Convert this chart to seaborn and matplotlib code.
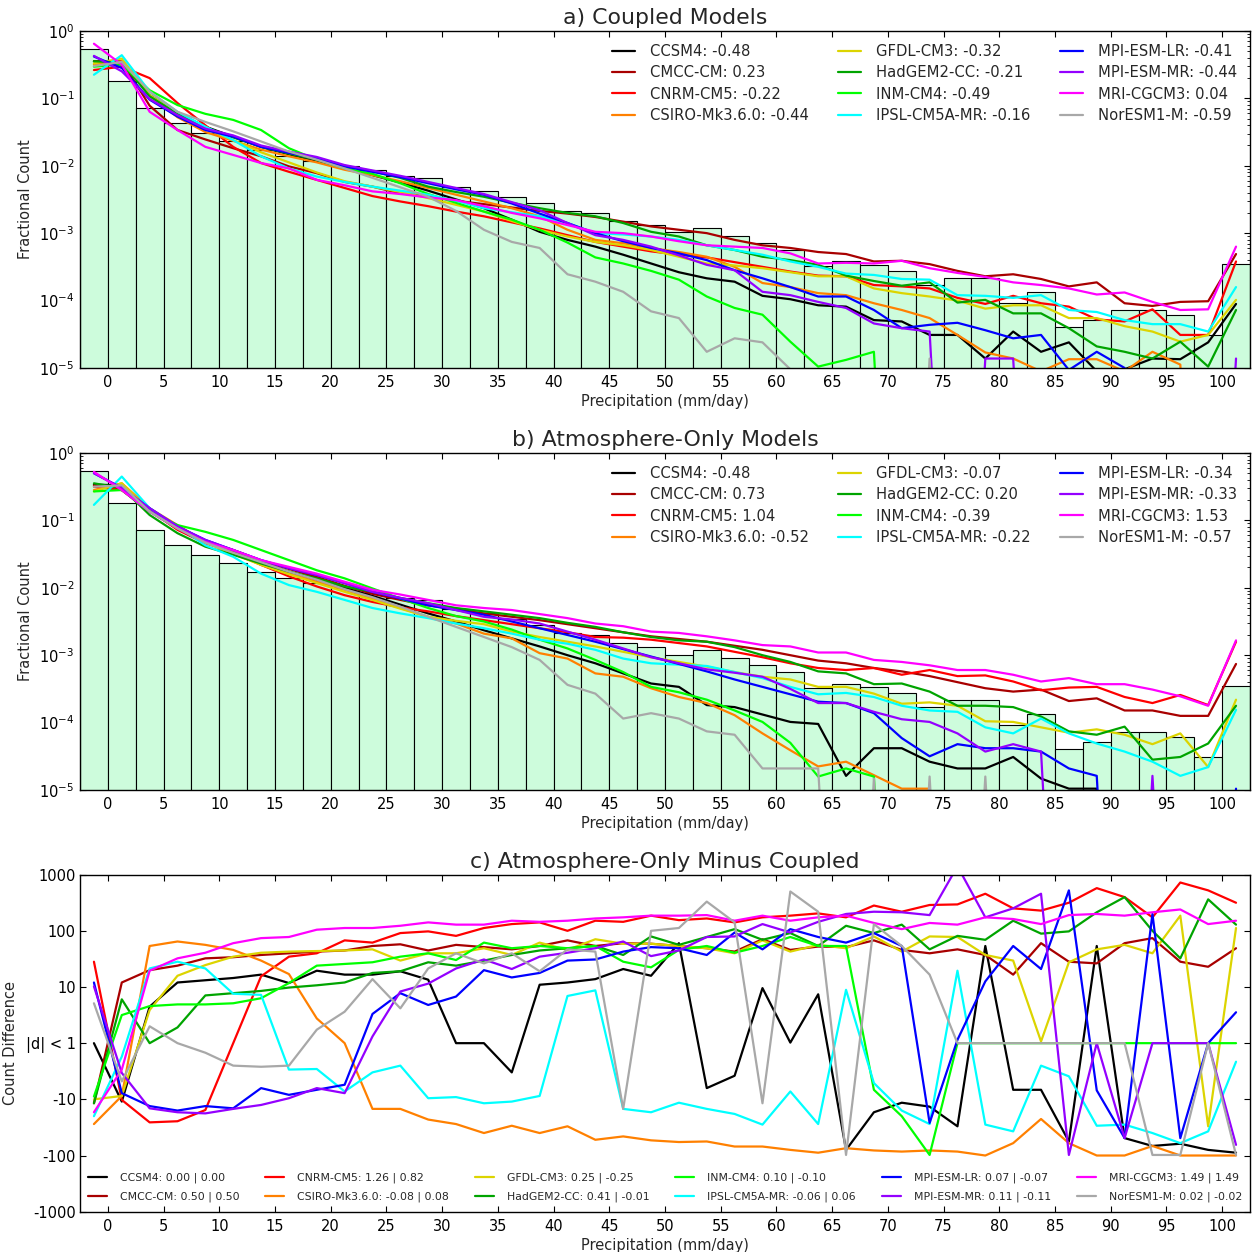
import numpy as np
import pandas as pd
import seaborn as sns
import matplotlib
matplotlib.use('Agg')
import matplotlib.pyplot as plt

OUT_PNG = 'out.png'

MODELS = ['CCSM4', 'CMCC-CM', 'CNRM-CM5', 'CSIRO-Mk3.6.0', 'GFDL-CM3', 'HadGEM2-CC',
          'INM-CM4', 'IPSL-CM5A-MR', 'MPI-ESM-LR', 'MPI-ESM-MR', 'MRI-CGCM3', 'NorESM1-M']
COLORS = ['#000000', '#a80000', '#ff0000', '#ff8000', '#dcd400', '#00a400',
          '#00ff00', '#00ffff', '#0000ff', '#9400ff', '#ff00ff', '#a8a8a8']

SKILL_CPL = ['-0.48', '0.23', '-0.22', '-0.44', '-0.32', '-0.21',
             '-0.49', '-0.16', '-0.41', '-0.44', '0.04', '-0.59']
SKILL_AMIP = ['-0.48', '0.73', '1.04', '-0.52', '-0.07', '0.20',
              '-0.39', '-0.22', '-0.34', '-0.33', '1.53', '-0.57']
SKILL_DIFF = ['0.00 | 0.00', '0.50 | 0.50', '1.26 | 0.82', '-0.08 | 0.08', '0.25 | -0.25', '0.41 | -0.01',
              '0.10 | -0.10', '-0.06 | 0.06', '0.07 | -0.07', '0.11 | -0.11', '1.49 | 1.49', '0.02 | -0.02']

# bin edges of the 2.5 mm/day histogram (-2.5 .. 102.5)
BIN_EDGES = np.arange(-2.5, 102.6, 2.5)
BIN_CENTERS = BIN_EDGES[:-1] + 1.25
OFF = -12  # empty bin, drops off the log axis

# observed fractional count (log10)
OBS_LOG = [-0.267, -0.747, -1.147, -1.365, -1.518, -1.637, -1.766, -1.85, -1.93, -2.0,
           -2.07, -2.156, -2.176, -2.315, -2.37, -2.463, -2.547, -2.675, -2.70, -2.814,
           -2.873, -2.99, -2.93, -3.035, -3.15, -3.254, -3.49, -3.42, -3.467, -3.556,
           -3.764, -3.665, -3.665, -4.036, -3.878, -4.387, -4.288, -4.145, -4.145, -4.209,
           -4.515, -3.452]

# a) coupled models, log10 fractional count
CPL_CCSM4 = [-0.45, -0.45, -0.95, -1.22, -1.42, -1.57, -1.72, -1.83, -1.93, -2.04, -2.14, -2.25, -2.37, -2.50,
             -2.63, -2.80, -2.98, -3.10, -3.20, -3.32, -3.45, -3.58, -3.67, -3.72, -3.93, -3.98, -4.07, -4.09,
             -4.29, -4.31, -4.51, -4.51, -4.86, -4.46, -4.76, -4.62, -5.05, -5.02, -4.86, -4.87, -4.62, -4.05]
CPL_CMCC = [-0.45, -0.45, -1.11, -1.47, -1.61, -1.74, -1.86, -2.01, -2.11, -2.24, -2.31, -2.41, -2.45, -2.52,
            -2.57, -2.62, -2.67, -2.71, -2.76, -2.83, -2.90, -2.95, -3.0, -3.10, -3.18, -3.22, -3.28, -3.31,
            -3.42, -3.41, -3.46, -3.56, -3.64, -3.61, -3.68, -3.79, -3.73, -4.04, -4.08, -4.02, -4.01, -3.31]
CPL_CNRM = [-0.58, -0.53, -0.70, -1.07, -1.40, -1.72, -1.96, -2.09, -2.21, -2.33, -2.45, -2.53, -2.60, -2.68,
            -2.75, -2.84, -2.93, -3.03, -3.13, -3.20, -3.27, -3.32, -3.36, -3.43, -3.50, -3.57, -3.63, -3.64,
            -3.77, -3.79, -3.82, -3.96, -4.05, -3.93, -4.04, -4.09, -4.28, -4.31, -4.13, -4.51, -4.51, -3.42]
CPL_CSIRO = [-0.50, -0.45, -0.96, -1.28, -1.50, -1.63, -1.76, -1.86, -1.95, -2.06, -2.14, -2.23, -2.33, -2.43,
             -2.53, -2.63, -2.75, -2.95, -3.10, -3.15, -3.22, -3.28, -3.35, -3.50, -3.74, -3.80, -3.89, -3.92,
             -4.04, -4.14, -4.26, -4.51, -4.77, -4.86, -5.05, -4.87, -4.87, -5.05, -4.76, -4.95, OFF, OFF]
CPL_GFDL = [-0.48, -0.41, -0.95, -1.22, -1.45, -1.62, -1.80, -1.95, -2.10, -2.23, -2.31, -2.39, -2.48, -2.58,
            -2.68, -2.82, -2.95, -3.05, -3.13, -3.18, -3.25, -3.35, -3.45, -3.48, -3.52, -3.58, -3.64, -3.64,
            -3.82, -3.89, -3.94, -4.00, -4.12, -4.07, -4.07, -4.26, -4.26, -4.38, -4.46, -4.61, -4.51, -3.99]
CPL_HADGEM = [-0.45, -0.47, -0.97, -1.23, -1.43, -1.58, -1.72, -1.82, -1.91, -2.0, -2.08, -2.18, -2.31, -2.39,
              -2.46, -2.55, -2.63, -2.70, -2.75, -2.85, -2.98, -3.05, -3.18, -3.25, -3.35, -3.40, -3.47, -3.63,
              -3.71, -3.78, -3.73, -4.03, -3.99, -4.19, -4.19, -4.41, -4.68, -4.76, -4.86, -4.61, -4.98, -4.14]
CPL_INM = [-0.53, -0.50, -0.88, -1.10, -1.23, -1.32, -1.47, -1.74, -1.91, -2.04, -2.12, -2.26, -2.42, -2.55,
           -2.68, -2.80, -2.95, -3.14, -3.36, -3.45, -3.56, -3.69, -3.94, -4.11, -4.21, -4.61, -4.98, -4.88,
           -4.76, OFF, OFF, OFF, OFF, OFF, OFF, OFF, OFF, OFF, OFF, OFF, OFF, OFF]
CPL_IPSL = [-0.65, -0.36, -0.90, -1.20, -1.42, -1.62, -1.86, -2.04, -2.16, -2.24, -2.31, -2.37, -2.43, -2.52,
            -2.63, -2.69, -2.75, -2.85, -3.0, -3.02, -3.05, -3.10, -3.18, -3.25, -3.32, -3.42, -3.50, -3.60,
            -3.62, -3.68, -3.69, -3.92, -3.93, -3.96, -3.92, -4.14, -4.17, -4.29, -4.35, -4.35, -4.46, -3.80]
CPL_MPILR = [-0.38, -0.55, -1.02, -1.27, -1.47, -1.57, -1.72, -1.81, -1.89, -2.01, -2.09, -2.17, -2.26, -2.35,
             -2.43, -2.56, -2.71, -2.85, -3.0, -3.12, -3.22, -3.30, -3.40, -3.55, -3.67, -3.80, -3.94, -3.94,
             -4.14, -4.41, -4.36, -4.33, -4.44, -4.56, -4.51, -5.03, -4.76, -5.0, OFF, OFF, OFF, OFF]
CPL_MPIMR = [-0.37, -0.60, -1.01, -1.25, -1.45, -1.55, -1.70, -1.79, -1.87, -1.99, -2.07, -2.15, -2.24, -2.33,
             -2.42, -2.54, -2.66, -2.85, -3.03, -3.10, -3.20, -3.33, -3.47, -3.55, -3.87, -3.92, -4.02, -4.11,
             -4.34, -4.41, -4.46, OFF, -4.86, -4.86, OFF, OFF, OFF, OFF, OFF, OFF, OFF, -4.86]
CPL_MRI = [-0.19, -0.50, -1.20, -1.47, -1.72, -1.84, -1.96, -2.04, -2.21, -2.29, -2.38, -2.42, -2.47, -2.51,
           -2.60, -2.70, -2.78, -2.88, -2.98, -3.0, -3.05, -3.12, -3.18, -3.20, -3.22, -3.30, -3.45, -3.44,
           -3.45, -3.41, -3.52, -3.59, -3.65, -3.73, -3.77, -3.82, -3.91, -3.88, -4.02, -4.14, -4.13, -3.20]
CPL_NORESM = [-0.52, -0.46, -0.90, -1.20, -1.35, -1.49, -1.64, -1.79, -1.91, -2.04, -2.18, -2.32, -2.46, -2.67,
              -2.95, -3.13, -3.22, -3.61, -3.72, -3.87, -4.16, -4.26, -4.76, -4.56, -4.62, -5.02, OFF, OFF,
              OFF, OFF, -4.86, OFF, OFF, OFF, OFF, OFF, OFF, OFF, OFF, OFF, OFF, OFF]

# b) atmosphere-only models, log10 fractional count
AMIP_CCSM4 = [-0.47, -0.48, -0.85, -1.12, -1.33, -1.48, -1.62, -1.76, -1.88, -2.0, -2.12, -2.25, -2.38, -2.50,
              -2.63, -2.75, -2.87, -3.0, -3.12, -3.27, -3.42, -3.47, -3.74, -3.77, -3.88, -3.99, -4.02, -4.79,
              -4.38, -4.38, -4.58, -4.68, -4.68, -4.51, -4.83, -4.98, -4.98, OFF, OFF, OFF, OFF, OFF]
AMIP_CMCC = [-0.48, -0.55, -0.87, -1.12, -1.31, -1.44, -1.60, -1.72, -1.84, -1.97, -2.09, -2.18, -2.26, -2.32,
             -2.38, -2.43, -2.48, -2.54, -2.60, -2.66, -2.72, -2.76, -2.80, -2.86, -2.92, -3.0, -3.08, -3.12,
             -3.19, -3.24, -3.31, -3.40, -3.49, -3.54, -3.51, -3.68, -3.64, -3.82, -3.82, -3.90, -3.90, -3.13]
AMIP_CNRM = [-0.50, -0.55, -0.85, -1.14, -1.34, -1.46, -1.66, -1.83, -1.98, -2.11, -2.21, -2.29, -2.35, -2.42,
             -2.48, -2.54, -2.60, -2.66, -2.73, -2.74, -2.77, -2.82, -2.87, -2.95, -3.03, -3.12, -3.19, -3.22,
             -3.19, -3.29, -3.22, -3.31, -3.30, -3.39, -3.52, -3.48, -3.47, -3.62, -3.71, -3.59, -3.74, -2.80]
AMIP_CSIRO = [-0.55, -0.45, -0.82, -1.07, -1.32, -1.49, -1.66, -1.79, -1.91, -2.03, -2.16, -2.30, -2.43, -2.53,
              -2.68, -2.75, -2.97, -3.05, -3.27, -3.32, -3.49, -3.62, -3.71, -3.89, -4.16, -4.41, -4.65, -4.58,
              -4.78, -4.98, -4.98, OFF, OFF, OFF, OFF, OFF, OFF, OFF, OFF, OFF, OFF, OFF]
AMIP_GFDL = [-0.57, -0.45, -0.85, -1.10, -1.33, -1.50, -1.66, -1.80, -1.93, -2.06, -2.18, -2.31, -2.43, -2.49,
             -2.54, -2.65, -2.73, -2.80, -2.87, -2.95, -3.03, -3.10, -3.17, -3.25, -3.32, -3.36, -3.47, -3.47,
             -3.57, -3.72, -3.70, -3.75, -3.98, -3.99, -4.07, -4.15, -4.10, -4.18, -4.32, -4.16, -4.66, -3.66]
AMIP_HADGEM = [-0.45, -0.52, -0.92, -1.19, -1.39, -1.51, -1.64, -1.76, -1.86, -1.98, -2.06, -2.15, -2.23, -2.30,
               -2.35, -2.40, -2.45, -2.52, -2.58, -2.66, -2.73, -2.78, -2.80, -2.88, -3.0, -3.10, -3.24, -3.27,
               -3.43, -3.42, -3.54, -3.75, -3.75, -3.77, -3.91, -4.13, -4.18, -4.06, -4.55, -4.51, -4.31, -3.75]
AMIP_INM = [-0.57, -0.55, -0.87, -1.07, -1.17, -1.29, -1.44, -1.59, -1.74, -1.86, -2.01, -2.16, -2.30, -2.42,
            -2.50, -2.62, -2.77, -2.90, -3.07, -3.25, -3.47, -3.55, -3.66, -3.82, -3.99, -4.30, -4.80, -4.68,
            -4.80, OFF, OFF, OFF, OFF, OFF, OFF, OFF, OFF, OFF, OFF, OFF, OFF, OFF]
AMIP_IPSL = [-0.77, -0.35, -0.82, -1.09, -1.37, -1.54, -1.79, -1.96, -2.06, -2.18, -2.30, -2.38, -2.45, -2.53,
             -2.60, -2.68, -2.77, -2.83, -2.92, -3.05, -3.12, -3.14, -3.16, -3.25, -3.34, -3.47, -3.58, -3.56,
             -3.62, -3.75, -3.82, -3.84, -4.07, -4.16, -3.94, -4.16, -4.31, -4.43, -4.58, -4.79, -4.66, -3.81]
AMIP_MPILR = [-0.30, -0.52, -0.82, -1.09, -1.29, -1.44, -1.59, -1.71, -1.81, -1.93, -2.06, -2.16, -2.26, -2.33,
              -2.40, -2.50, -2.60, -2.70, -2.80, -2.91, -3.02, -3.13, -3.24, -3.36, -3.47, -3.58, -3.69, -3.71,
              -3.86, -4.23, -4.50, -4.32, -4.38, -4.38, -4.43, -4.68, -4.79, OFF, -4.98, OFF, OFF, -4.98]
AMIP_MPIMR = [-0.30, -0.52, -0.82, -1.09, -1.29, -1.44, -1.59, -1.71, -1.81, -1.93, -2.06, -2.15, -2.23, -2.33,
              -2.43, -2.47, -2.53, -2.65, -2.77, -2.90, -3.03, -3.12, -3.21, -3.26, -3.32, -3.50, -3.71, -3.71,
              -3.84, -3.95, -3.99, -4.16, -4.43, -4.32, -4.43, OFF, OFF, OFF, -4.79, OFF, OFF, OFF]
AMIP_MRI = [-0.28, -0.55, -0.87, -1.12, -1.32, -1.44, -1.59, -1.69, -1.79, -1.91, -2.03, -2.10, -2.18, -2.26,
            -2.30, -2.33, -2.39, -2.45, -2.53, -2.57, -2.65, -2.67, -2.72, -2.78, -2.85, -2.87, -2.96, -2.96,
            -3.07, -3.10, -3.15, -3.22, -3.22, -3.29, -3.39, -3.34, -3.43, -3.43, -3.51, -3.61, -3.75, -2.78]
AMIP_NORESM = [-0.50, -0.48, -0.87, -1.12, -1.33, -1.48, -1.62, -1.76, -1.88, -2.02, -2.14, -2.28, -2.43, -2.58,
               -2.73, -2.88, -3.07, -3.44, -3.57, -3.94, -3.86, -3.94, -4.13, -4.18, -4.68, -4.68, -4.68, OFF,
               -4.83, OFF, -4.80, OFF, -4.80, OFF, OFF, OFF, OFF, OFF, OFF, OFF, OFF, OFF]

# c) count difference, on the signed log axis (0 means |d| < 1)
DIF_CCSM4 = [0, -1.04, 0.65, 1.08, 1.12, 1.16, 1.22, 1.07, 1.29, 1.22, 1.22, 1.28, 1.13, 0, 0, -0.52, 1.04,
             1.08, 1.14, 1.32, 1.20, 1.78, -0.80, -0.58, 0.98, 0.01, 0.87, -1.90, -1.23, -1.06, -1.13, -1.48,
             1.73, -0.83, -0.83, -1.75, 1.73, -1.69, -1.83, -1.79, -1.90, -1.95]
DIF_CMCC = [-1.07, 1.08, 1.30, 1.38, 1.51, 1.53, 1.57, 1.60, 1.63, 1.65, 1.73, 1.76, 1.65, 1.75, 1.71, 1.67,
            1.73, 1.83, 1.73, 1.78, 1.77, 1.73, 1.69, 1.63, 1.85, 1.66, 1.72, 1.71, 1.83, 1.66, 1.60, 1.67,
            1.57, 1.22, 1.78, 1.45, 1.42, 1.78, 1.87, 1.45, 1.36, 1.69]
DIF_CNRM = [1.45, -1.01, -1.41, -1.39, -1.19, 0.0, 1.19, 1.54, 1.60, 1.83, 1.79, 1.96, 1.99, 1.91, 2.05,
            2.12, 2.15, 2.00, 2.18, 2.16, 2.27, 2.19, 2.22, 2.15, 2.24, 2.27, 2.31, 2.24, 2.45, 2.34, 2.46,
            2.47, 2.66, 2.40, 2.36, 2.50, 2.76, 2.60, 2.24, 2.86, 2.72, 2.50]
DIF_CSIRO = [-1.44, -0.94, 1.73, 1.81, 1.75, 1.66, 1.47, 1.23, 0.44, 0, -1.17, -1.17, -1.36, -1.44, -1.60,
             -1.47, -1.60, -1.48, -1.72, -1.66, -1.73, -1.76, -1.75, -1.84, -1.84, -1.90, -1.95, -1.87, -1.91,
             -1.93, -1.91, -1.93, -2.0, -1.78, -1.35, -1.78, -2.0, -2.0, -1.83, -2.0, -2.0, -2.0]
DIF_GFDL = [-1.0, -0.94, 0.59, 1.20, 1.39, 1.54, 1.61, 1.63, 1.64, 1.65, 1.67, 1.47, 1.60, 1.60, 1.69, 1.57,
            1.79, 1.66, 1.85, 1.77, 1.77, 1.73, 1.69, 1.60, 1.83, 1.63, 1.75, 1.69, 1.90, 1.63, 1.90, 1.89,
            1.57, 1.47, 0.03, 1.44, 1.67, 1.75, 1.60, 2.27, -1.48, 2.05]
DIF_HADGEM = [-1.07, 0.78, 0, 0.28, 0.85, 0.89, 0.93, 0.99, 1.03, 1.08, 1.25, 1.28, 1.44, 1.38, 1.47, 1.57,
              1.65, 1.69, 1.73, 1.57, 1.90, 1.75, 1.89, 2.03, 1.84, 1.96, 1.73, 2.09, 1.96, 2.11, 1.67, 1.91,
              1.84, 2.18, 1.95, 1.99, 2.33, 2.60, 2.00, 1.51, 2.56, 2.11]
DIF_INM = [-0.95, 0.50, 0.66, 0.69, 0.69, 0.71, 0.80, 1.07, 1.38, 1.41, 1.44, 1.54, 1.60, 1.48, 1.79, 1.69,
           1.73, 1.69, 1.73, 1.45, 1.35, 1.66, 1.73, 1.61, 1.73, 1.89, 1.73, 1.73, -0.83, -1.30, -1.99, 0,
           0, 0, 0, 0, 0, 0, 0, 0, 0, 0]
DIF_IPSL = [-1.30, -0.24, 1.33, 1.45, 1.33, 0.88, 0.86, -0.47, -0.46, -0.86, -0.52, -0.40, -0.98, -0.96,
            -1.07, -1.04, -0.94, 0.84, 0.94, -1.17, -1.23, -1.06, -1.17, -1.26, -1.45, -0.86, -1.44, 0.95,
            -0.71, -1.20, -1.44, 1.29, -1.45, -1.57, -0.40, -0.59, -1.47, -1.45, -1.60, -1.78, -1.57, -0.33]
DIF_MPILR = [1.08, -0.89, -1.12, -1.20, -1.12, -1.16, -0.80, -0.92, -0.83, -0.74, 0.52, 0.89, 0.68, 0.83,
             1.30, 1.17, 1.25, 1.47, 1.49, 1.63, 1.71, 1.69, 1.57, 1.97, 1.67, 2.03, 1.89, 1.79, 1.96, 1.73,
             -1.42, 0.06, 1.10, 1.73, 1.32, 2.72, -0.84, -1.69, 2.30, -1.69, 0, 0.55]
DIF_MPIMR = [1.01, -0.53, -1.16, -1.23, -1.25, -1.17, -1.10, -0.98, -0.80, -0.89, 0.12, 0.92, 1.06, 1.33,
             1.49, 1.32, 1.54, 1.61, 1.69, 1.81, 1.55, 1.65, 1.89, 1.90, 2.12, 1.97, 2.16, 2.30, 2.34, 2.33,
             2.28, 3.15, 2.24, 2.40, 2.66, -1.99, 0, -1.69, 0, 0, 0, -1.81]
DIF_MRI = [-1.23, -0.47, 1.29, 1.51, 1.61, 1.78, 1.87, 1.89, 2.02, 2.05, 2.05, 2.09, 2.15, 2.11, 2.11, 2.18,
           2.16, 2.18, 2.22, 2.24, 2.27, 2.27, 2.28, 2.18, 2.27, 2.18, 2.24, 2.27, 2.14, 2.03, 2.14, 2.11,
           2.24, 2.21, 2.12, 2.28, 2.30, 2.27, 2.33, 2.38, 2.12, 2.18]
DIF_NORESM = [0.71, -0.68, 0.30, 0, -0.17, -0.40, -0.42, -0.40, 0.24, 0.56, 1.14, 0.62, 1.33, 1.60, 1.42,
              1.60, 1.28, 1.67, 1.63, -1.17, 2.00, 2.05, 2.52, 2.15, -1.07, 2.70, 2.34, -1.99, 2.12, 1.73,
              1.22, 0, 0, 0, 0, 0, 0, 0, -1.99, -1.99, 0, -1.99]

HIST_COLOR = '#cdfcdc'
FS = 10.5


def style_axes(ax):
    ax.set_xlim(-2.5, 102.5)
    ax.set_xticks(np.arange(0, 101, 5))
    ax.tick_params(which='both', direction='in', top=True, right=True, labelsize=FS, colors='black')
    ax.tick_params(which='major', length=4, width=0.8, pad=5)
    ax.tick_params(which='minor', length=2, width=0.6)
    for sp in ax.spines.values():
        sp.set_color('black')
        sp.set_linewidth(1.0)
    ax.set_xlabel('Precipitation (mm/day)', fontsize=FS, labelpad=3)


def plot_log_panel(ax, title, series, skills):
    obs = pd.DataFrame({'precip': BIN_CENTERS, 'frac': 10 ** np.array(OBS_LOG)})
    sns.histplot(data=obs, x='precip', weights='frac', bins=list(BIN_EDGES), ax=ax,
                 color=HIST_COLOR, edgecolor='black', linewidth=0.8, alpha=1)
    for name, vals, col, sk in zip(MODELS, series, COLORS, skills):
        sns.lineplot(x=BIN_CENTERS, y=10 ** np.array(vals, dtype=float), color=col, lw=1.6,
                     estimator=None, label=f'{name}: {sk}', ax=ax)
    ax.set_yscale('log')
    ax.set_ylim(1e-5, 1)
    style_axes(ax)
    ax.tick_params(axis='y', which='major', pad=4)
    ax.set_ylabel('Fractional Count', fontsize=FS)
    ax.yaxis.set_label_coords(-0.040, 0.5)
    ax.set_title(title, fontsize=15.8, pad=5)
    handles, labels = ax.get_legend_handles_labels()
    ax.legend(handles, labels, ncol=3, loc='upper right', frameon=False, fontsize=10.6,
              handlelength=1.56, handletextpad=1.0, columnspacing=2.0, labelspacing=0.42,
              borderaxespad=0.5)


def plot_diff_panel(ax, series):
    for name, vals, col, sk in zip(MODELS, series, COLORS, SKILL_DIFF):
        sns.lineplot(x=BIN_CENTERS, y=vals, color=col, lw=1.6, estimator=None,
                     label=f'{name}: {sk}', ax=ax)
    ax.set_ylim(-3, 3)
    ax.set_yticks([-3, -2, -1, 0, 1, 2, 3])
    ax.set_yticklabels(['-1000', '-100', '-10', '|d| < 1', '10', '100', '1000'])
    style_axes(ax)
    ax.tick_params(axis='y', which='major', pad=3)
    ax.minorticks_off()
    ax.set_ylabel('Count Difference', fontsize=FS)
    ax.yaxis.set_label_coords(-0.053, 0.5)
    ax.set_title('c) Atmosphere-Only Minus Coupled', fontsize=15.8, pad=5)
    handles, labels = ax.get_legend_handles_labels()
    ax.legend(handles, labels, ncol=6, loc='lower center', frameon=False, fontsize=7.8,
              handlelength=1.75, handletextpad=1.2, columnspacing=2.4, labelspacing=0.75,
              borderaxespad=0.5)


def main():
    sns.set_style('ticks')
    plt.rcParams['font.family'] = ['DejaVu Sans']
    plt.rcParams['axes.edgecolor'] = 'black'

    cpl = [CPL_CCSM4, CPL_CMCC, CPL_CNRM, CPL_CSIRO, CPL_GFDL, CPL_HADGEM,
           CPL_INM, CPL_IPSL, CPL_MPILR, CPL_MPIMR, CPL_MRI, CPL_NORESM]
    amip = [AMIP_CCSM4, AMIP_CMCC, AMIP_CNRM, AMIP_CSIRO, AMIP_GFDL, AMIP_HADGEM,
            AMIP_INM, AMIP_IPSL, AMIP_MPILR, AMIP_MPIMR, AMIP_MRI, AMIP_NORESM]
    dif = [DIF_CCSM4, DIF_CMCC, DIF_CNRM, DIF_CSIRO, DIF_GFDL, DIF_HADGEM,
           DIF_INM, DIF_IPSL, DIF_MPILR, DIF_MPIMR, DIF_MRI, DIF_NORESM]

    fig = plt.figure(figsize=(12.58, 12.52), dpi=100)
    ax_a = fig.add_axes([0.0636, 0.7061, 0.930, 0.2692])
    ax_b = fig.add_axes([0.0636, 0.3690, 0.930, 0.2692])
    ax_c = fig.add_axes([0.0636, 0.0322, 0.930, 0.2692])

    plot_log_panel(ax_a, 'a) Coupled Models', cpl, SKILL_CPL)
    plot_log_panel(ax_b, 'b) Atmosphere-Only Models', amip, SKILL_AMIP)
    plot_diff_panel(ax_c, dif)

    fig.savefig(OUT_PNG, dpi=100, facecolor='white')
    plt.close(fig)


if __name__ == '__main__':
    main()
